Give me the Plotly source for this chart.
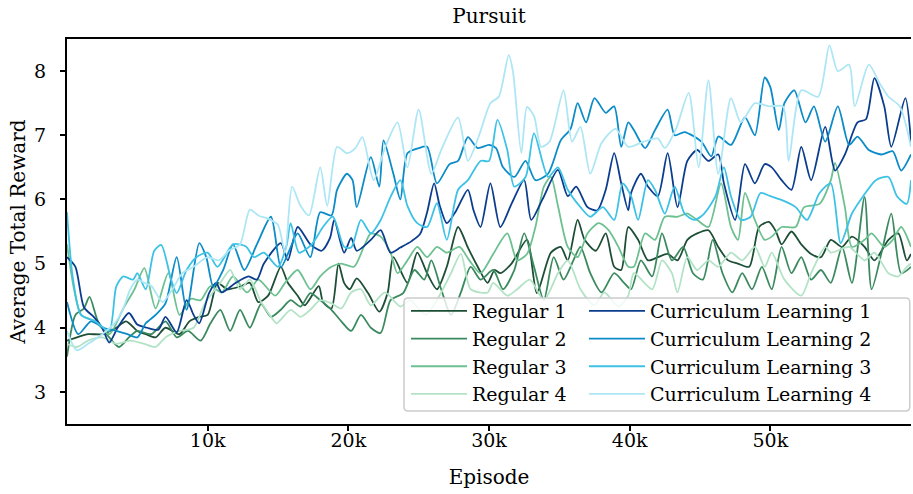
import plotly.graph_objects as go

# ---------------- data (episode in thousands, average total reward) ----------------
reg1_ep = [0, 0.7, 1.5, 2.5, 3.5, 4.2, 5, 5.6, 6.3, 7, 8, 8.7, 9.4, 10, 10.7, 11.4, 12.4, 13, 13.6, 14.3, 15.2, 15.7, 16.4, 16.9, 17.9, 18.2, 18.8, 19.3, 19.7, 20.1, 20.6, 21.4, 22.2, 22.8, 23.2, 24.2, 24.9, 25.6, 26.3, 27, 27.8, 28.5, 29.2, 29.9, 30.4, 30.8, 31.6, 32.7, 33.4, 34.4, 35.1, 35.6, 36.3, 36.8, 37.6, 38.3, 38.9, 39.4, 39.9, 40.6, 41.3, 42, 42.7, 43.4, 44.1, 44.8, 45.6, 46.3, 47, 47.7, 48.5, 49.2, 49.9, 50.4, 50.8, 51.5, 52.2, 52.9, 53.6, 54.3, 55.1, 55.8, 56.7, 57.4, 58.4, 59.1, 59.7, 60]
reg1_val = [3.8, 3.85, 3.9, 3.9, 4.0, 4.1, 3.95, 3.9, 3.85, 4.0, 3.9, 4.1, 4.17, 4.2, 4.7, 4.6, 4.65, 4.7, 4.4, 4.5, 4.95, 4.7, 4.5, 4.35, 4.65, 4.4, 4.3, 5.0, 4.7, 4.6, 4.77, 4.54, 4.25, 4.55, 5.1, 4.7, 5.17, 4.85, 4.6, 4.95, 5.57, 5.25, 4.95, 4.7, 4.9, 4.85, 5.0, 5.37, 4.54, 5.17, 5.26, 5.05, 5.68, 5.37, 5.2, 5.47, 4.95, 4.9, 5.57, 5.37, 5.05, 5.1, 5.15, 5.05, 5.37, 5.47, 5.52, 5.26, 5.05, 5.0, 4.95, 5.57, 5.65, 5.5, 5.3, 5.5, 5.3, 5.15, 5.1, 5.37, 5.26, 5.42, 5.26, 5.05, 5.37, 5.47, 5.05, 5.15]

reg2_ep = [0, 0.6, 1.2, 1.6, 2.2, 3, 3.7, 4.4, 5, 6, 7, 7.8, 8.6, 9.5, 10.2, 10.9, 11.6, 12.3, 13, 13.8, 14.5, 15.2, 15.9, 16.6, 17.3, 18, 18.8, 19.5, 20.2, 20.9, 21.6, 22.3, 23, 23.9, 24.7, 25.4, 25.9, 26.6, 27.3, 28, 28.7, 29.4, 30.3, 31, 31.8, 32.5, 33.2, 33.9, 34.6, 35.3, 36, 36.5, 37.2, 38, 38.9, 39.6, 40.1, 40.8, 41.6, 42.3, 43, 43.8, 44.5, 45.2, 45.9, 46.6, 47.3, 48, 48.7, 49.4, 50.1, 50.8, 51.5, 52.2, 52.9, 53.6, 54.3, 55.1, 55.8, 56.7, 57.2, 58, 58.6, 59.3, 60]
reg2_val = [3.55, 4.2, 4.3, 4.48, 4.1, 3.85, 3.7, 3.85, 3.95, 3.9, 4.1, 3.85, 3.95, 3.8, 4.07, 4.28, 3.95, 4.28, 4.0, 4.37, 4.17, 4.28, 4.43, 4.33, 4.54, 4.43, 4.28, 4.1, 3.95, 4.2, 4.0, 3.92, 4.43, 4.54, 4.9, 4.75, 5.05, 4.6, 4.2, 4.55, 4.95, 4.75, 4.9, 4.6, 4.9, 5.47, 4.95, 4.43, 5.1, 4.75, 5.05, 5.26, 4.85, 4.55, 4.85, 4.7, 4.6, 5.05, 4.8, 5.47, 5.05, 5.26, 4.85, 4.75, 5.37, 4.85, 4.55, 4.85, 4.6, 4.95, 4.6, 5.26, 4.85, 5.1, 4.75, 4.9, 4.7, 5.26, 4.7, 6.04, 4.6, 5.26, 5.78, 4.85, 4.95]

reg3_ep = [0, 0.5, 1, 2, 3, 4, 4.8, 5.5, 6.3, 7.2, 8, 8.8, 9.5, 10.2, 11, 11.8, 12.8, 13.6, 14.8, 15.5, 16.4, 17.3, 18, 18.8, 19.5, 20.4, 21.1, 21.6, 22.3, 23, 23.5, 24.2, 24.9, 25.6, 26.3, 27, 27.9, 28.6, 29.4, 30.3, 31.3, 32, 32.7, 33.3, 33.9, 34.4, 34.9, 35.6, 36.3, 37, 37.8, 38.5, 39.2, 39.9, 40.3, 41.1, 41.8, 42.5, 43.4, 44.1, 44.8, 45.6, 46.5, 47.2, 47.7, 48.2, 48.9, 49.6, 50.1, 50.8, 51.8, 52.4, 53.5, 54.3, 54.6, 55.3, 55.8, 56.7, 57.2, 58.1, 58.7, 59.3, 60]
reg3_val = [5.3, 4.6, 4.2, 4.1, 3.9, 4.3, 4.6, 4.93, 4.3, 4.85, 4.2, 4.45, 4.43, 4.65, 4.55, 4.8, 4.55, 4.75, 4.5, 4.7, 4.9, 4.6, 4.8, 4.95, 5.0, 4.95, 5.26, 5.47, 5.42, 5.17, 4.85, 5.05, 5.26, 5.1, 5.26, 5.17, 5.26, 5.05, 4.85, 5.15, 5.47, 5.05, 5.15, 5.57, 6.2, 6.35, 5.9, 5.26, 5.1, 5.47, 5.63, 5.52, 5.26, 4.95, 4.95, 5.47, 5.37, 5.73, 5.73, 5.78, 5.68, 5.57, 6.25, 5.57, 5.37, 6.1, 5.68, 5.37, 5.42, 5.57, 5.57, 5.88, 5.93, 6.3, 6.57, 5.88, 5.26, 5.37, 5.47, 5.26, 5.37, 5.57, 5.26]

reg4_ep = [0, 0.7, 1.5, 2.5, 3.5, 4.5, 5.5, 6.3, 7, 8, 9, 9.8, 10.9, 11.6, 12.3, 13, 13.8, 14.5, 14.9, 15.9, 16.6, 17.3, 18, 18.8, 19.5, 20.2, 20.9, 21.6, 22.6, 23.7, 24.4, 25.5, 26.6, 27.3, 28, 28.7, 29.9, 30.3, 31.3, 32, 32.9, 33.9, 34.9, 35.6, 36.5, 37.5, 38.2, 39.2, 39.9, 40.3, 41.6, 42.3, 43, 43.4, 44.1, 44.8, 45.6, 46.3, 47.2, 48, 48.9, 49.6, 50.1, 51, 52.2, 52.9, 53.9, 54.3, 55.6, 56.7, 57.4, 58.4, 59.1, 59.7, 60]
reg4_val = [3.75, 3.7, 3.8, 3.85, 3.75, 3.8, 3.75, 3.7, 3.85, 3.95, 4.0, 4.38, 4.7, 4.9, 4.6, 4.75, 4.4, 4.17, 4.07, 4.28, 4.17, 4.28, 4.43, 4.38, 4.3, 4.55, 4.6, 4.35, 4.55, 4.33, 4.43, 4.2, 4.55, 4.85, 5.15, 4.6, 4.55, 4.7, 4.5, 4.6, 4.75, 4.43, 4.85, 5.05, 4.6, 4.35, 4.55, 4.33, 4.5, 4.85, 4.6, 5.05, 4.85, 4.55, 5.1, 4.9, 5.05, 4.95, 5.17, 5.05, 5.26, 4.95, 5.17, 4.75, 4.5, 4.85, 5.26, 5.17, 5.26, 5.05, 5.17, 4.85, 4.8, 4.95, 5.0]

cl1_ep = [0, 0.6, 1.2, 1.9, 2.5, 3, 3.6, 4.4, 5, 5.7, 6.5, 7, 7.8, 8.5, 9, 9.4, 10.1, 10.6, 11, 12, 12.9, 13.5, 14, 15.2, 15.7, 16.4, 17.3, 18.1, 18.7, 19, 19.7, 20.2, 20.6, 21.6, 22.3, 23, 23.7, 24.5, 25.1, 25.6, 26.1, 26.5, 27, 27.6, 28.5, 28.9, 29.4, 30.1, 30.8, 31.6, 32.5, 33, 33.8, 34.9, 35.6, 36.2, 37, 37.7, 38.3, 38.9, 39.4, 39.9, 40.1, 40.8, 41.3, 42, 42.7, 43.4, 44.1, 44.8, 45.6, 46.3, 46.7, 47.5, 48.2, 48.9, 49.6, 50.1, 50.8, 51.5, 52.2, 52.9, 53.9, 54.6, 55.3, 56.2, 56.8, 57.4, 58.1, 58.6, 59.6, 60]
cl1_val = [5.1, 4.95, 4.32, 4.17, 4.0, 3.77, 4.0, 4.23, 4.05, 4.0, 3.97, 4.17, 3.93, 4.43, 4.2, 4.07, 4.54, 4.7, 4.55, 4.7, 4.8, 4.75, 5.0, 5.32, 5.05, 5.57, 5.3, 5.2, 5.4, 5.68, 5.17, 5.4, 5.2, 5.37, 5.52, 5.17, 5.25, 5.35, 5.46, 5.8, 6.25, 5.9, 5.63, 5.8, 6.15, 5.83, 5.57, 6.25, 5.57, 5.93, 6.3, 5.68, 6.0, 6.46, 6.05, 6.2, 5.88, 5.83, 6.15, 6.72, 6.25, 5.83, 6.1, 6.4, 6.2, 6.05, 6.72, 5.88, 6.6, 6.77, 6.6, 6.7, 6.25, 5.68, 6.55, 6.25, 6.55, 6.5, 6.3, 6.15, 6.82, 6.3, 7.13, 6.45, 6.7, 7.2, 7.25, 7.89, 7.45, 6.82, 7.58, 6.9]

cl2_ep = [0, 0.8, 1.7, 2.6, 3.5, 4.3, 5, 5.6, 6.3, 7, 7.8, 8.5, 9.4, 9.9, 10.4, 11.1, 11.8, 12.6, 13.5, 14.5, 15.2, 15.8, 16.4, 17.3, 18, 18.8, 19.2, 19.9, 20.3, 20.6, 21.6, 22.2, 22.5, 23.2, 23.7, 24.2, 25, 25.6, 26.3, 27.2, 27.8, 28.5, 29.2, 30, 30.5, 31, 31.8, 32.6, 33.3, 34.2, 35.1, 35.8, 36.3, 36.9, 37.5, 38.3, 38.9, 39.4, 39.9, 40.3, 41.1, 41.8, 42.7, 43.2, 43.9, 45.1, 45.8, 46.3, 47.2, 48.2, 48.9, 49.6, 50, 50.6, 51, 51.7, 52.5, 53.1, 53.9, 54.8, 55.6, 56.2, 57, 57.9, 58.7, 59.3, 60]
cl2_val = [4.4, 3.9, 4.1, 4.0, 3.95, 3.9, 3.85, 4.07, 4.2, 4.38, 5.1, 4.28, 5.32, 5.1, 4.64, 4.9, 5.3, 4.9, 5.3, 5.73, 4.94, 5.2, 5.47, 5.1, 5.8, 5.75, 6.15, 6.4, 6.3, 5.88, 6.66, 6.2, 6.92, 6.4, 6.0, 6.72, 6.8, 6.82, 6.25, 6.55, 6.6, 6.97, 6.8, 6.85, 6.8, 6.5, 6.35, 6.6, 6.3, 6.4, 6.92, 7.1, 7.5, 7.2, 7.58, 7.35, 7.45, 6.82, 7.2, 7.08, 6.8, 7.08, 7.4, 7.0, 7.05, 6.9, 6.67, 6.98, 6.85, 7.28, 7.0, 7.9, 7.75, 7.08, 7.5, 7.7, 7.2, 7.45, 6.9, 7.45, 6.85, 6.98, 6.77, 6.7, 6.75, 6.45, 6.7]

cl3_ep = [0, 0.4, 1, 2, 3, 3.5, 4, 4.7, 5, 5.6, 6.2, 6.7, 7.4, 7.8, 8.5, 9.2, 10, 10.7, 11.8, 12.7, 13.3, 14, 15, 15.6, 15.9, 16.5, 17.4, 18.2, 18.9, 19.7, 20.2, 20.9, 21.6, 22.3, 23, 23.7, 24.2, 24.9, 25.6, 26.3, 27, 27.8, 28.5, 29.4, 30, 30.6, 31.3, 31.8, 32.6, 33.2, 34.2, 34.9, 35.6, 36.5, 37.2, 38.1, 38.9, 39.5, 40.1, 40.6, 41.3, 41.8, 42.5, 43.2, 43.9, 44.6, 45.3, 46.1, 46.7, 47.2, 47.9, 48.6, 49.3, 50, 50.7, 51.8, 52.6, 53.5, 54.3, 55, 55.8, 56.6, 57.5, 58.4, 59, 59.7, 60]
cl3_val = [5.8, 4.8, 4.2, 4.1, 3.95, 4.64, 4.8, 4.75, 4.85, 4.6, 5.2, 5.29, 4.75, 4.54, 4.9, 5.1, 5.17, 4.95, 5.3, 5.27, 5.1, 5.17, 4.95, 5.27, 5.63, 5.17, 5.3, 5.57, 5.73, 5.26, 5.25, 5.68, 5.47, 5.68, 6.04, 6.3, 5.9, 5.63, 5.57, 5.94, 5.37, 6.15, 6.3, 6.6, 6.6, 7.24, 6.77, 6.2, 6.35, 7.03, 6.35, 6.5, 6.15, 5.88, 5.73, 5.88, 5.68, 6.25, 6.05, 5.68, 6.3, 6.15, 5.78, 6.2, 5.78, 5.68, 5.78, 6.05, 6.5, 6.05, 5.68, 5.73, 6.1, 6.05, 6.0, 5.88, 5.68, 6.1, 6.25, 5.32, 5.78, 6.05, 6.3, 6.35, 6.05, 5.93, 6.3]

cl4_ep = [0, 0.7, 1.5, 2.5, 3.5, 4, 4.5, 5, 5.5, 6, 6.8, 7.5, 8.2, 9, 10, 10.8, 11.5, 12.3, 13, 13.6, 14.3, 15, 15.5, 16, 16.6, 17.2, 18, 18.5, 19.2, 19.9, 20.5, 21, 21.8, 22.6, 23.5, 24.2, 25, 25.9, 26.6, 27.8, 28.5, 29.3, 30.1, 30.7, 31.4, 31.7, 32.3, 32.7, 33.2, 33.7, 34.3, 35.3, 35.9, 36.5, 37.2, 38, 39, 39.9, 41, 42, 42.5, 43.3, 44.2, 44.9, 45.6, 46.3, 47.2, 47.9, 48.9, 49.9, 50.9, 51.3, 52.2, 53.4, 54.2, 54.8, 55.6, 56, 57, 57.8, 58.4, 59.2, 60]
cl4_val = [3.95, 3.65, 3.75, 3.9, 4.1, 4.3, 4.6, 4.75, 4.7, 4.65, 4.4, 4.6, 4.85, 4.95, 5.1, 5.05, 5.2, 5.3, 5.84, 5.75, 5.7, 5.6, 5.17, 6.2, 5.9, 5.75, 6.5, 5.9, 6.82, 6.72, 6.8, 6.97, 6.3, 6.8, 7.2, 6.5, 7.4, 6.4, 6.77, 7.28, 6.6, 7.0, 7.5, 7.6, 8.25, 8.0, 6.72, 7.44, 7.3, 6.82, 6.9, 7.7, 6.9, 7.13, 6.4, 6.88, 7.1, 6.82, 6.9, 6.95, 6.8, 7.1, 7.66, 6.5, 7.86, 6.4, 7.58, 7.2, 7.5, 7.45, 7.45, 6.6, 7.7, 7.6, 8.4, 8.0, 8.1, 7.45, 8.1, 7.8, 7.6, 7.45, 6.82]

series_names = ["Regular 1", "Regular 2", "Regular 3", "Regular 4",
                "Curriculum Learning 1", "Curriculum Learning 2",
                "Curriculum Learning 3", "Curriculum Learning 4"]
series_eps = [reg1_ep, reg2_ep, reg3_ep, reg4_ep, cl1_ep, cl2_ep, cl3_ep, cl4_ep]
series_vals = [reg1_val, reg2_val, reg3_val, reg4_val, cl1_val, cl2_val, cl3_val, cl4_val]
series_colors = ["#1d4e36", "#3b8a5f", "#6dc191", "#b3e3c6",
                 "#0b3d8e", "#0b8bc7", "#3dc2e6", "#ade6f5"]

x_tick_vals = [10000, 20000, 30000, 40000, 50000]
x_tick_text = ["10k", "20k", "30k", "40k", "50k"]
y_tick_vals = [3, 4, 5, 6, 7, 8]

FONT = "DejaVu Serif"

fig = go.Figure()
for i, (name, ep, val, col) in enumerate(zip(series_names, series_eps, series_vals, series_colors)):
    fig.add_trace(go.Scatter(
        x=[e * 1000 for e in ep], y=val, mode="lines", name=name,
        line=dict(color=col, width=1.8, shape="spline", smoothing=0.7),
        legend="legend" if i < 4 else "legend2",
        hoverinfo="skip",
    ))

# legend frame (rounded rectangle, semi-transparent white)
x0, x1, y0, y1 = 0.3993, 0.9985, 0.034, 0.327
rx, ry = 4 / 844, 4 / 385
frame_path = (f"M{x0+rx},{y0} L{x1-rx},{y0} Q{x1},{y0} {x1},{y0+ry} L{x1},{y1-ry} "
              f"Q{x1},{y1} {x1-rx},{y1} L{x0+rx},{y1} Q{x0},{y1} {x0},{y1-ry} "
              f"L{x0},{y0+ry} Q{x0},{y0} {x0+rx},{y0} Z")

leg_y = (424 - 292) / 385
fig.update_layout(
    width=913, height=494,
    margin=dict(l=67, r=2, t=39, b=70),
    paper_bgcolor="white", plot_bgcolor="white",
    font=dict(family=FONT, size=18, color="black"),
    title=dict(text="Pursuit", xref="paper", x=0.5, xanchor="center",
               y=0.968, yanchor="middle",
               font=dict(family=FONT, size=20, color="black")),
    shapes=[dict(type="path", xref="paper", yref="paper", path=frame_path,
                 fillcolor="rgba(255,255,255,0.8)", line=dict(color="#cccccc", width=1.5),
                 layer="above")],
    showlegend=True,
    legend=dict(x=(406 - 67) / 844, xanchor="left", y=leg_y, yanchor="top",
                bgcolor="rgba(0,0,0,0)", borderwidth=0, itemwidth=56,
                font=dict(family=FONT, size=19, color="black"), tracegroupgap=0),
    legend2=dict(x=(584 - 67) / 844, xanchor="left", y=leg_y, yanchor="top",
                 bgcolor="rgba(0,0,0,0)", borderwidth=0, itemwidth=56,
                 font=dict(family=FONT, size=19, color="black"), tracegroupgap=0),
)

fig.update_xaxes(
    range=[0, 60000], showgrid=False, zeroline=False, automargin=False,
    showline=True, linecolor="black", linewidth=2, mirror=True,
    ticks="outside", ticklen=5, tickwidth=1.5, tickcolor="black",
    tickvals=x_tick_vals, ticktext=x_tick_text, ticklabelstandoff=-7,
    tickfont=dict(family=FONT, size=19, color="black"),
    title=dict(text="Episode", font=dict(family=FONT, size=20, color="black"), standoff=20),
)
fig.update_yaxes(
    range=[2.5, 8.5], showgrid=False, zeroline=False, automargin=False,
    showline=True, linecolor="black", linewidth=2, mirror=False,
    ticks="outside", ticklen=5, tickwidth=1.5, tickcolor="black",
    tickvals=y_tick_vals, ticklabelstandoff=10,
    tickfont=dict(family=FONT, size=19, color="black"),
    title=dict(text="Average Total Reward", font=dict(family=FONT, size=20, color="black"), standoff=3),
)

fig.write_html("out.html", config={"displayModeBar": False},
               post_script="document.body.style.margin='0';")
